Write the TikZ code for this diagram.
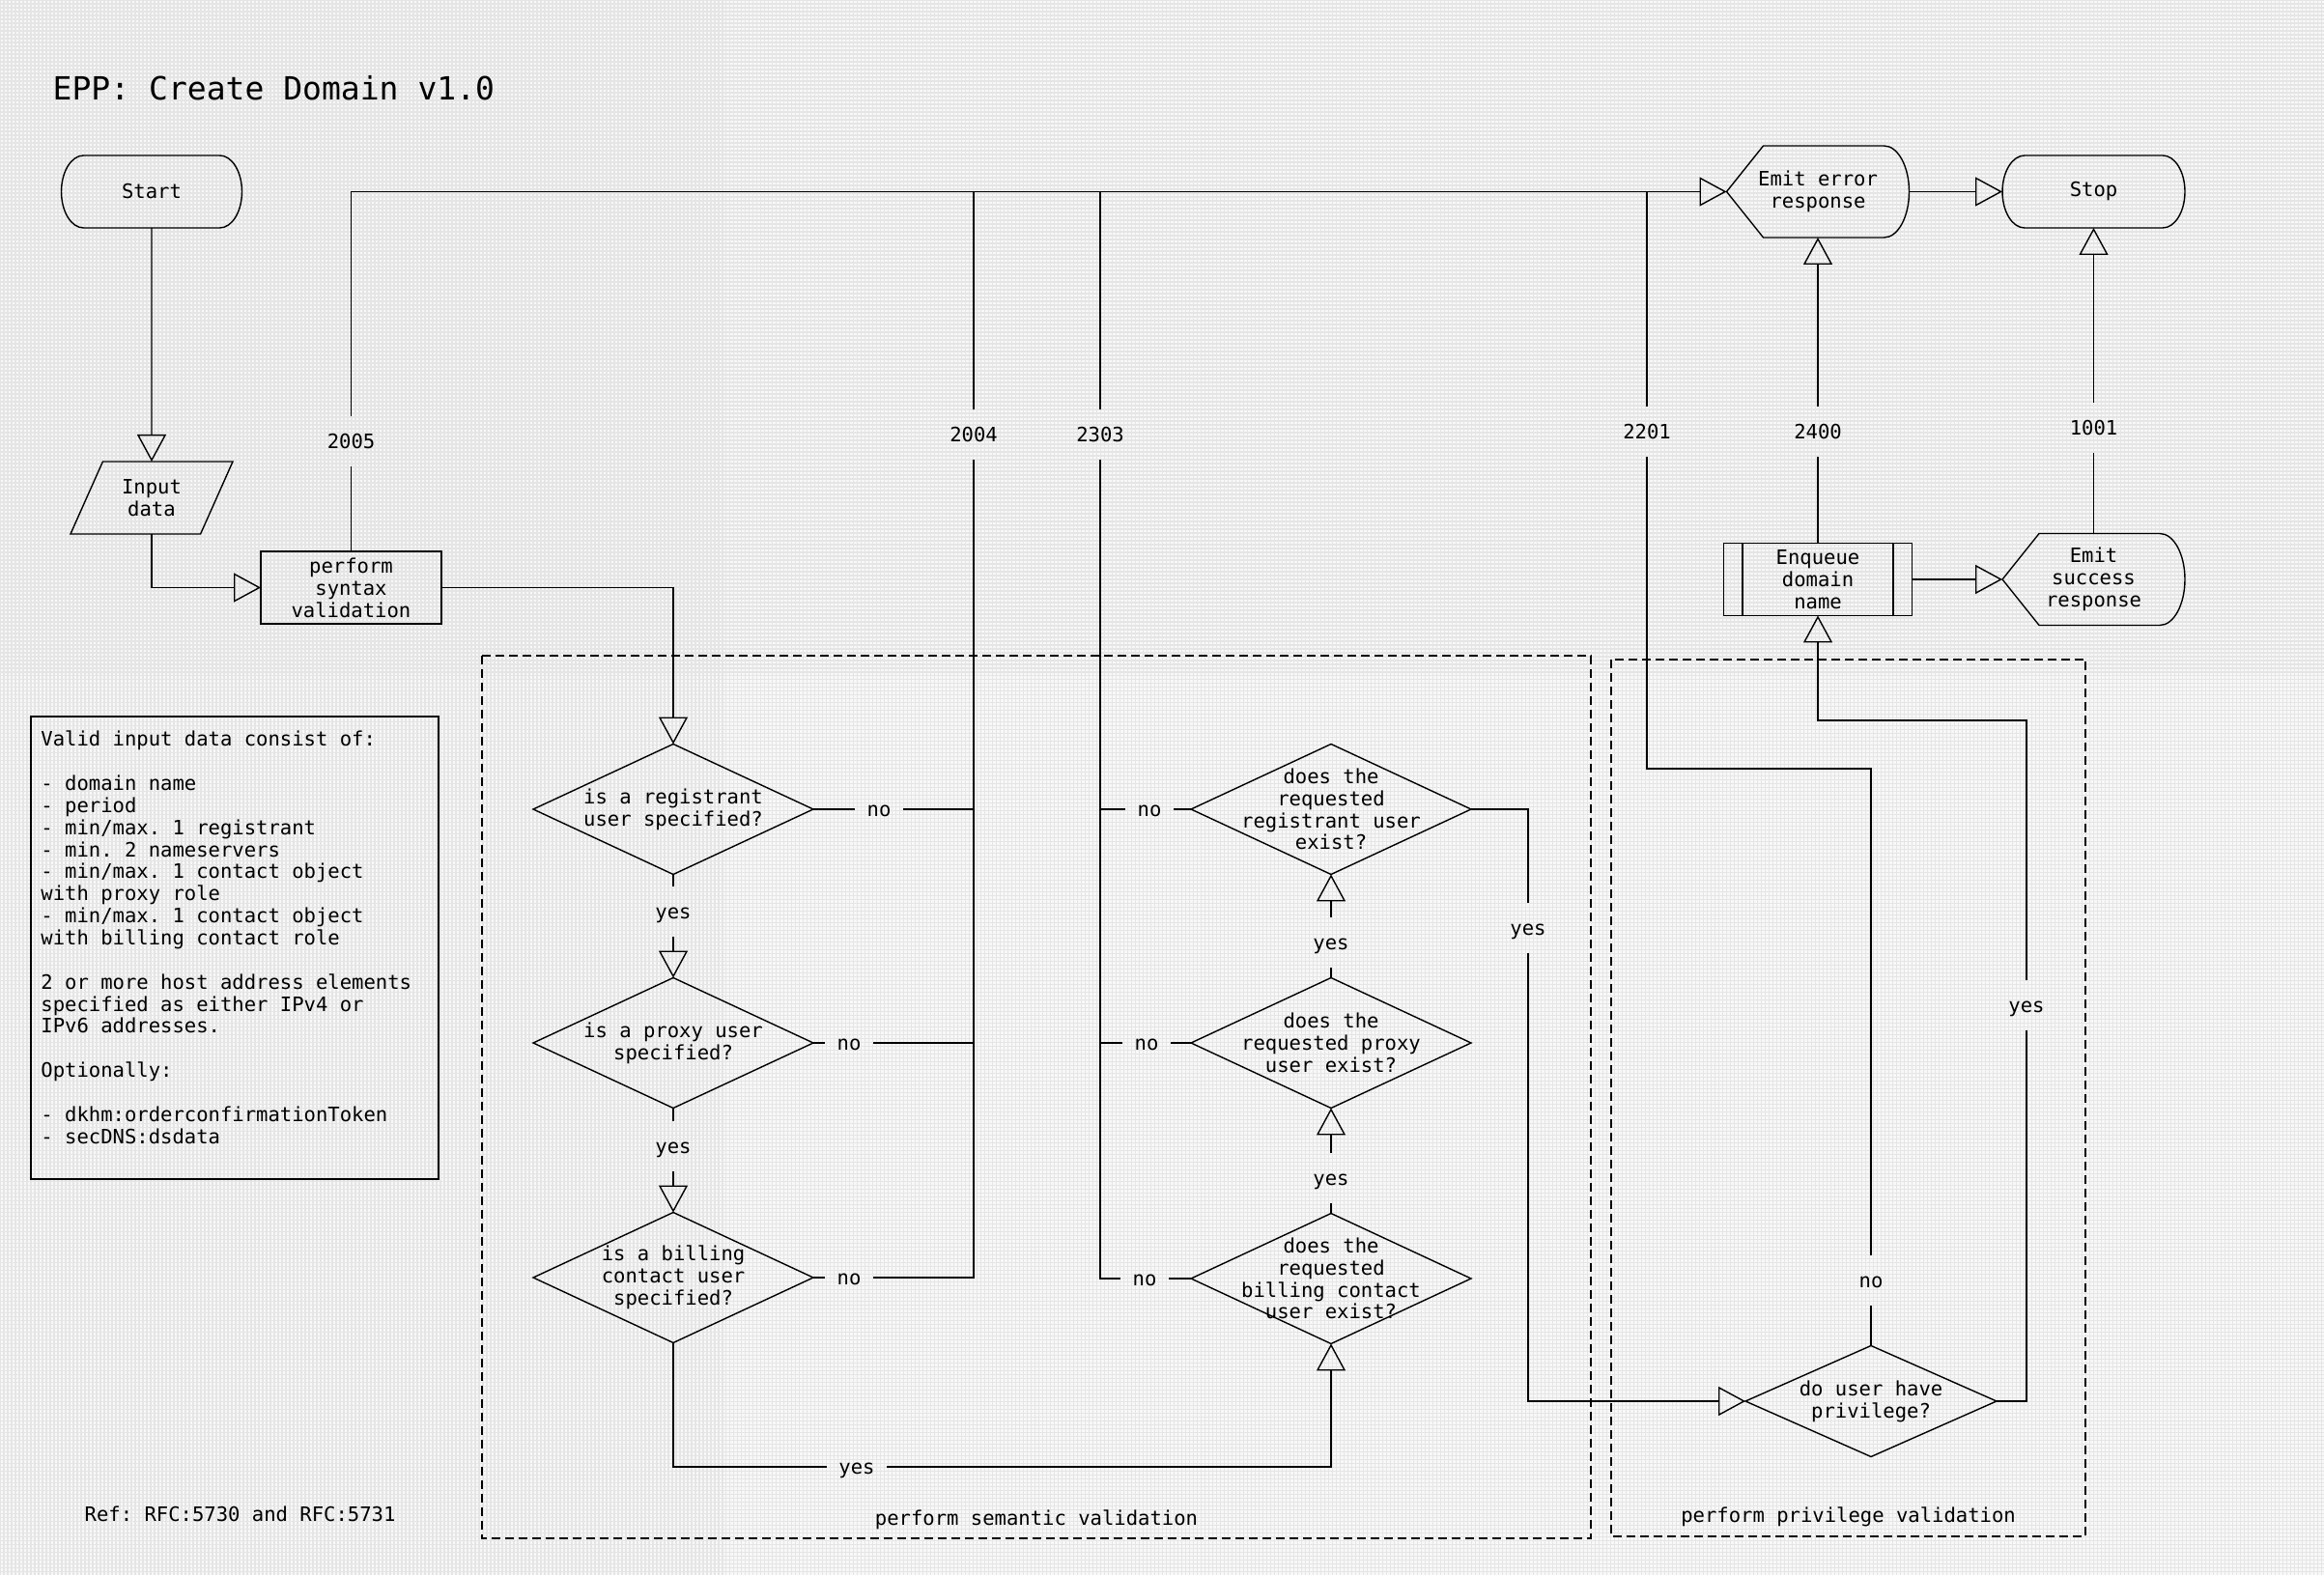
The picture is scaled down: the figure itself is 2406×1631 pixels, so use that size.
\documentclass[tikz,border=0pt]{standalone}
\usepackage{fontspec}
\setmonofont{DejaVu Sans Mono}
\usetikzlibrary{arrows.meta, shapes.geometric}

\definecolor{paper}{HTML}{F8F8F8}
\definecolor{paperline}{HTML}{E5E5E5}

% outline of a Start / Stop box
\newcommand{\terminaloutline}[1]{%
  \draw ([xshift=0.46cm]#1.north west) -- ([xshift=-0.46cm]#1.north east)
        arc[start angle=90, end angle=-90, x radius=0.46cm, y radius=0.75cm]
        -- ([xshift=0.46cm]#1.south west)
        arc[start angle=270, end angle=90, x radius=0.46cm, y radius=0.75cm] -- cycle;}

% outline of an "emit response" box
\newcommand{\emitoutline}[1]{%
  \draw (#1.west) -- ([xshift=0.76cm]#1.north west) -- ([xshift=-0.52cm]#1.north east)
        arc[start angle=90, end angle=-90, x radius=0.52cm, y radius=0.95cm]
        -- ([xshift=0.76cm]#1.south west) -- cycle;}

\begin{document}
\begin{tikzpicture}[x=0.02cm, y=-0.02cm, line width=0.028cm,
                    font=\ttfamily\fontsize{11.7pt}{13pt}\selectfont]

        % Setup the styles for the boxes and connectors
        \tikzset{terminal/.style={rectangle, outer sep=0pt,
                                  minimum width=3.74cm, minimum height=1.5cm},
                 emit/.style={rectangle, outer sep=0pt, align=center,
                              minimum width=3.78cm, minimum height=1.9cm},
                 process/.style={rectangle, draw, outer sep=0pt, align=center,
                                 minimum width=3.74cm, minimum height=1.5cm},
                 subprocess/.style={process, minimum width=3.9cm,
                     path picture={\draw ([xshift=0.39cm]path picture bounding box.north west)
                                      -- ([xshift=0.39cm]path picture bounding box.south west)
                                         ([xshift=-0.39cm]path picture bounding box.north east)
                                      -- ([xshift=-0.39cm]path picture bounding box.south east);}},
                 iodata/.style={trapezium, draw, outer sep=0pt, align=center,
                                trapezium left angle=64, trapezium right angle=116,
                                trapezium stretches=true,
                                minimum width=3.38cm, minimum height=1.5cm},
                 decision/.style={diamond, draw, inner sep=0pt, outer sep=0pt,
                                  minimum width=5.8cm, minimum height=2.7cm},
                 tag/.style={inner xsep=0.24cm, inner ysep=0.3cm,
                             text height=0.35cm, text depth=0.05cm},
                 flow/.style={-{Triangle[open, length=0.56cm, width=0.6cm]}},
                 stage/.style={dash pattern=on 0.18cm off 0.1cm}}

        % Paper
        \useasboundingbox (0,0) rectangle (2406,1631);
        \fill[paper] (0,0) rectangle (2406,1631);
        \draw[paperline, line width=0.025cm, step=0.08cm] (0,0) grid (2406,1631);

        % Title and references
        \node[anchor=west, inner sep=0pt, font=\ttfamily\fontsize{18.8pt}{22pt}\selectfont]
                                at (54, 91)      (title)   {EPP: Create Domain v1.0};
        \node[anchor=west, inner sep=0pt]
                                at (87, 1568)    (ref)     {Ref: RFC:5730 and RFC:5731};

        % Validation stages
        \draw[stage] (499, 679) rectangle (1647, 1593);
        \draw[stage] (1668, 683) rectangle (2159, 1591);
        \node at (1073, 1574)   (semantic)  {perform semantic validation};
        \node at (1913.5, 1571) (privilege) {perform privilege validation};

        % Draw the boxes
        \node[terminal]         at (157, 198.5)    (start)   {Start};
        \node[terminal, minimum width=3.78cm]
                                at (2167.5, 198.5) (stop)    {Stop};
        \node[emit]             at (1882, 198.5)   (err)     {Emit error\\response};
        \node[emit]             at (2167.5, 600)   (ok)      {Emit\\success\\response};
        \node[iodata]           at (157, 515.5)    (input)   {Input\\data};
        \node[process]          at (363.5, 608.5)  (syntax)  {perform\\syntax\\validation};
        \node[subprocess]       at (1882, 600)     (enq)     {Enqueue\\domain\\name};
        \terminaloutline{start}
        \terminaloutline{stop}
        \emitoutline{err}
        \emitoutline{ok}

        \node[draw, anchor=north west, inner xsep=0.21cm, inner ysep=0.3cm, outer sep=0pt]
                                at (32, 742)       (note)    {\parbox[c][8.98cm][t]{8.02cm}{\raggedright
            Valid input data consist of:\\[0.46cm]
            - domain name\\
            - period\\
            - min/max. 1 registrant\\
            - min. 2 nameservers\\
            - min/max. 1 contact object\\
            with proxy role\\
            - min/max. 1 contact object\\
            with billing contact role\\[0.46cm]
            2 or more host address elements\\
            specified as either IPv4 or\\
            IPv6 addresses.\\[0.46cm]
            Optionally:\\[0.46cm]
            - dkhm:orderconfirmationToken\\
            - secDNS:dsdata}};

        % Draw the decisions
        \node[decision, label={[align=center]center:is a registrant\\user specified?}]
                                at (697, 838)      (regq)    {};
        \node[decision, label={[align=center]center:is a proxy user\\specified?}]
                                at (697, 1080)     (proxyq)  {};
        \node[decision, label={[align=center]center:is a billing\\contact user\\specified?}]
                                at (697, 1323)     (billq)   {};
        \node[decision, label={[align=center]center:does the\\requested\\registrant user\\exist?}]
                                at (1378, 838)     (regex)   {};
        \node[decision, label={[align=center]center:does the\\requested proxy\\user exist?}]
                                at (1378, 1080)    (proxyex) {};
        \node[decision, label={[align=center]center:does the\\requested\\billing contact\\user exist?}]
                                at (1378, 1324)    (billex)  {};
        \node[decision, minimum width=5.2cm, minimum height=2.3cm,
              label={[align=center]center:do user have\\privilege?}]
                                at (1937, 1451)    (priv)    {};

        % Connector labels
        \node[tag] at (363.5, 457)  (c2005) {2005};
        \node[tag] at (1008, 450)   (c2004) {2004};
        \node[tag] at (1139, 450)   (c2303) {2303};
        \node[tag] at (1705, 447)   (c2201) {2201};
        \node[tag] at (1882, 447)   (c2400) {2400};
        \node[tag] at (2167.5, 443) (c1001) {1001};
        \node[tag] at (910, 838)    (no1)   {no};
        \node[tag] at (879, 1080)   (no2)   {no};
        \node[tag] at (879, 1323)   (no3)   {no};
        \node[tag] at (1190, 838)   (no4)   {no};
        \node[tag] at (1187, 1080)  (no5)   {no};
        \node[tag] at (1185, 1324)  (no6)   {no};
        \node[tag] at (1937, 1326)  (noP)   {no};
        \node[tag] at (697, 944)    (yes1)  {yes};
        \node[tag] at (697, 1187)   (yes2)  {yes};
        \node[tag] at (887, 1519)   (yesB)  {yes};
        \node[tag] at (1378, 1220)  (yes6)  {yes};
        \node[tag] at (1378, 976)   (yes5)  {yes};
        \node[tag] at (1582, 961)   (yes4)  {yes};
        \node[tag] at (2098, 1041)  (yesP)  {yes};
        \coordinate (privturn) at (1705, 796);
        \coordinate (enqturn)  at (1882, 746);

        % Connect the boxes with arrows
        \draw[flow] (start) -- (input);
        \draw[flow] (input) |- (syntax);
        \draw[flow] (syntax) -| (regq);
        \draw (syntax) -- (c2005);
        \draw[flow] (c2005) |- (err);
        \draw[flow] (err) -- (stop);

        \draw (regq) -- (yes1);   \draw[flow] (yes1) -- (proxyq);
        \draw (proxyq) -- (yes2); \draw[flow] (yes2) -- (billq);
        \draw (billq) |- (yesB);  \draw[flow] (yesB) -| (billex);
        \draw (billex) -- (yes6); \draw[flow] (yes6) -- (proxyex);
        \draw (proxyex) -- (yes5); \draw[flow] (yes5) -- (regex);

        \draw (regq) -- (no1) -- (no1 -| c2004);
        \draw (proxyq) -- (no2) -- (no2 -| c2004);
        \draw (billq) -- (no3) -| (c2004);
        \draw (c2004) -- (c2004 |- err);

        \draw (regex) -- (no4) -- (no4 -| c2303);
        \draw (proxyex) -- (no5) -- (no5 -| c2303);
        \draw (billex) -- (no6) -| (c2303);
        \draw (c2303) -- (c2303 |- err);

        \draw (regex) -| (yes4);  \draw[flow] (yes4) |- (priv);
        \draw (priv) -- (noP);
        \draw (noP) |- (privturn) -- (c2201);
        \draw (c2201) -- (c2201 |- err);
        \draw (priv) -| (yesP);
        \draw[flow] (yesP) |- (enqturn) -- (enq);

        \draw (enq) -- (c2400);   \draw[flow] (c2400) -- (err);
        \draw[flow] (enq) -- (ok);
        \draw (ok) -- (c1001);    \draw[flow] (c1001) -- (stop);
    \end{tikzpicture}
\end{document}
